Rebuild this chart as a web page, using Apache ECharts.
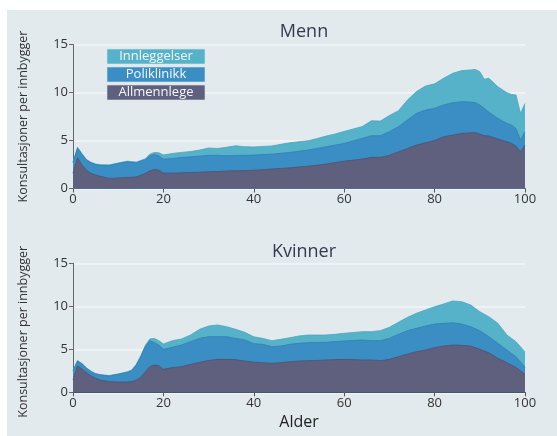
<!DOCTYPE html>
<html><head><meta charset="utf-8">
<script src="https://cdn.jsdelivr.net/npm/echarts@6/dist/echarts.min.js"></script>
<style>html,body{margin:0;padding:0;background:#fff}#c{width:557px;height:436px}</style>
</head><body><div id="c"></div>
<script>
const seriesNames = ['Allmennlege', 'Poliklinikk', 'Innleggelser'];
const xTicks = [0, 20, 40, 60, 80, 100];
const yTicks = [0, 5, 10, 15];

const menAges = [0,1,2,3,4,5,6,8,10,12,14,16,17,18,19,20,22,24,26,28,30,32,34,36,38,40,42,44,46,48,50,52,54,56,58,60,62,64,66,68,70,72,74,76,78,80,82,84,86,88,89,90,91,92,94,96,97,98,99,100];
const menAllmennlege = [1.6,3.2,2.45,1.9,1.57,1.4,1.28,1.05,1.1,1.15,1.2,1.57,1.84,1.98,1.92,1.6,1.6,1.63,1.67,1.7,1.74,1.77,1.82,1.84,1.87,1.91,1.96,2.03,2.09,2.15,2.24,2.33,2.43,2.54,2.7,2.85,2.95,3.06,3.25,3.24,3.45,3.82,4.17,4.52,4.76,5.0,5.39,5.56,5.74,5.8,5.82,5.67,5.5,5.47,5.15,4.87,4.7,4.42,3.82,4.5];
const menPoliklinikk = [1.1,1.0,1.1,1.05,1.1,1.1,1.14,1.35,1.5,1.63,1.47,1.43,1.56,1.57,1.48,1.45,1.53,1.6,1.63,1.67,1.71,1.7,1.58,1.6,1.59,1.57,1.57,1.55,1.58,1.61,1.64,1.67,1.74,1.8,1.82,1.85,2.01,2.16,2.25,2.26,2.46,2.61,2.96,3.31,3.41,3.35,3.31,3.38,3.3,3.2,3.13,3.03,2.85,2.48,2.15,1.91,1.9,1.84,1.22,1.4];
const menInnleggelser = [0.05,0.1,0.07,0.07,0.06,0.06,0.06,0.06,0.06,0.07,0.08,0.1,0.18,0.21,0.32,0.45,0.52,0.53,0.55,0.63,0.77,0.7,0.9,1.01,0.89,0.85,0.85,0.85,0.93,1.0,0.99,0.97,1.03,1.12,1.16,1.25,1.24,1.23,1.55,1.52,1.69,1.67,2.09,2.27,2.51,2.55,2.78,3.06,3.24,3.35,3.45,3.47,3.03,3.53,3.3,3.2,3.2,3.48,2.79,2.95];

const womenAges = [0,1,2,3,4,5,6,8,10,12,13,14,15,16,17,18,19,20,22,24,26,28,30,32,34,36,38,40,42,44,46,48,50,52,54,56,58,60,62,64,66,68,70,72,74,76,78,80,82,84,86,88,90,92,94,96,98,100];
const womenAllmennlege = [1.43,3.06,2.71,2.28,1.9,1.63,1.43,1.24,1.2,1.2,1.25,1.43,1.74,2.4,2.98,3.17,3.1,2.67,2.87,2.98,3.25,3.48,3.7,3.83,3.83,3.8,3.64,3.5,3.44,3.37,3.44,3.56,3.64,3.67,3.7,3.76,3.8,3.83,3.8,3.76,3.76,3.68,3.83,4.14,4.45,4.72,4.92,5.19,5.38,5.5,5.46,5.38,5.0,4.6,3.95,3.44,2.9,2.1];
const womenPoliklinikk = [1.07,0.58,0.58,0.51,0.5,0.5,0.58,0.66,0.89,1.12,1.27,1.74,2.4,2.9,3.02,2.6,2.4,2.33,2.36,2.52,2.64,2.79,2.77,2.64,2.64,2.47,2.44,2.15,2.14,1.93,1.94,2.02,2.06,2.1,2.1,2.05,2.1,2.14,2.22,2.32,2.24,2.32,2.44,2.6,2.71,2.72,2.79,2.75,2.64,2.59,2.48,2.25,2.16,1.87,1.75,1.48,1.24,0.8];
const womenInnleggelser = [0.05,0.06,0.05,0.05,0.05,0.05,0.05,0.05,0.05,0.06,0.08,0.08,0.11,0.15,0.2,0.5,0.5,0.62,0.77,0.7,0.77,1.05,1.24,1.36,1.16,1.05,0.89,0.8,0.69,0.7,0.78,0.77,0.85,0.89,0.85,0.85,0.85,0.89,0.93,0.97,1.05,1.17,1.29,1.4,1.56,1.75,1.86,2.01,2.25,2.53,2.59,2.52,2.21,2.32,2.32,1.74,1.75,1.8];

const colors = {Allmennlege:'#5f5f7e', Poliklinikk:'#3a8ec4', Innleggelser:'#56b2c9'};
const edge = {Allmennlege:'#4f5070', Poliklinikk:'#2f7fb5', Innleggelser:'#4aa6bd'};
const FONT = '"Open Sans", "Noto Sans", sans-serif';

// cumulative stacking (layers drawn back to front, each filled down to zero)
function layers(ages, allm, poli, inn){
  const c1 = allm.map(v=>v);
  const c2 = allm.map((v,i)=>v+poli[i]);
  const c3 = allm.map((v,i)=>v+poli[i]+inn[i]);
  return {Allmennlege:ages.map((a,i)=>[a,+c1[i].toFixed(3)]),
          Poliklinikk:ages.map((a,i)=>[a,+c2[i].toFixed(3)]),
          Innleggelser:ages.map((a,i)=>[a,+c3[i].toFixed(3)])};
}
function mk(name, data, idx, z){
  return {name, type:'line', xAxisIndex:idx, yAxisIndex:idx, data:data,
    showSymbol:false, symbol:'none', smooth:false, z:z,
    lineStyle:{width:0.8, color:edge[name]}, areaStyle:{color:colors[name], opacity:1, origin:'start'},
    itemStyle:{color:colors[name]}, silent:true};
}
function xa(idx, withName){
  return {gridIndex:idx, type:'value', min:xTicks[0], max:xTicks[xTicks.length-1], interval:20,
    axisLine:{show:true, onZero:false, lineStyle:{color:'#333', width:1}},
    axisTick:{show:true, length:4, lineStyle:{color:'#555'}},
    axisLabel:{fontSize:13, color:'#333', fontFamily:FONT, margin:4},
    splitLine:{show:false},
    name: withName ? 'Alder' : '', nameLocation:'middle', nameGap:22,
    nameTextStyle:{fontSize:16, color:'#222', fontFamily:FONT}};
}
function ya(idx, pad){
  return {gridIndex:idx, type:'value', min:yTicks[0], max:yTicks[yTicks.length-1], interval:5,
    axisLine:{show:true, lineStyle:{color:'#666', width:1}},
    axisTick:{show:true, length:4, lineStyle:{color:'#666'}},
    axisLabel:{fontSize:13, color:'#333', fontFamily:FONT, margin:5},
    splitLine:{show:true, lineStyle:{color:'#f3f6f7', width:1.5}},
    name:'Konsultasjoner per innbygger', nameLocation:'middle', nameGap:43, nameRotate:90,
    nameTextStyle:{fontSize:12.5, color:'#333', fontFamily:FONT, padding:pad}};
}
const legendItems = ['Innleggelser','Poliklinikk','Allmennlege'];
const legendY = [49, 67, 85];
const graphic = [{type:'rect', shape:{x:7,y:10,width:550,height:426}, style:{fill:'#e2eaed'}, z:-10, silent:true}];
legendItems.forEach((n,i)=>{
  graphic.push({type:'rect', shape:{x:107,y:legendY[i],width:98,height:15}, style:{fill:colors[n], stroke:'#d8e4ea', lineWidth:0.6}, z:10});
  graphic.push({type:'text', x:156, y:legendY[i]+7.5, style:{text:n, fill:'#f4f8fa', font:'13px '+FONT, align:'center', verticalAlign:'middle'}, z:11});
});

const men = layers(menAges, menAllmennlege, menPoliklinikk, menInnleggelser);
const women = layers(womenAges, womenAllmennlege, womenPoliklinikk, womenInnleggelser);

const chart = echarts.init(document.getElementById('c'), null, {renderer:'canvas'});
chart.setOption({
  backgroundColor:'#ffffff',
  animation:false,
  title:[
    {text:'Menn', left:299, top:18, textAlign:'center', textStyle:{fontSize:18, fontWeight:'normal', color:'#343a50', fontFamily:FONT}},
    {text:'Kvinner', left:299, top:238, textAlign:'center', textStyle:{fontSize:18, fontWeight:'normal', color:'#343a50', fontFamily:FONT}}
  ],
  graphic:graphic,
  grid:[
    {left:73, top:44.5, width:452, height:144},
    {left:73, top:263.3, width:452, height:129}
  ],
  xAxis:[xa(0,false), xa(1,true)],
  yAxis:[ya(0,[0,0,0,0]), ya(1,[0,8,0,0])],
  series:[
    mk('Innleggelser', men.Innleggelser, 0, 2),
    mk('Poliklinikk', men.Poliklinikk, 0, 3),
    mk('Allmennlege', men.Allmennlege, 0, 4),
    mk('Innleggelser', women.Innleggelser, 1, 2),
    mk('Poliklinikk', women.Poliklinikk, 1, 3),
    mk('Allmennlege', women.Allmennlege, 1, 4)
  ]
});
</script></body></html>
